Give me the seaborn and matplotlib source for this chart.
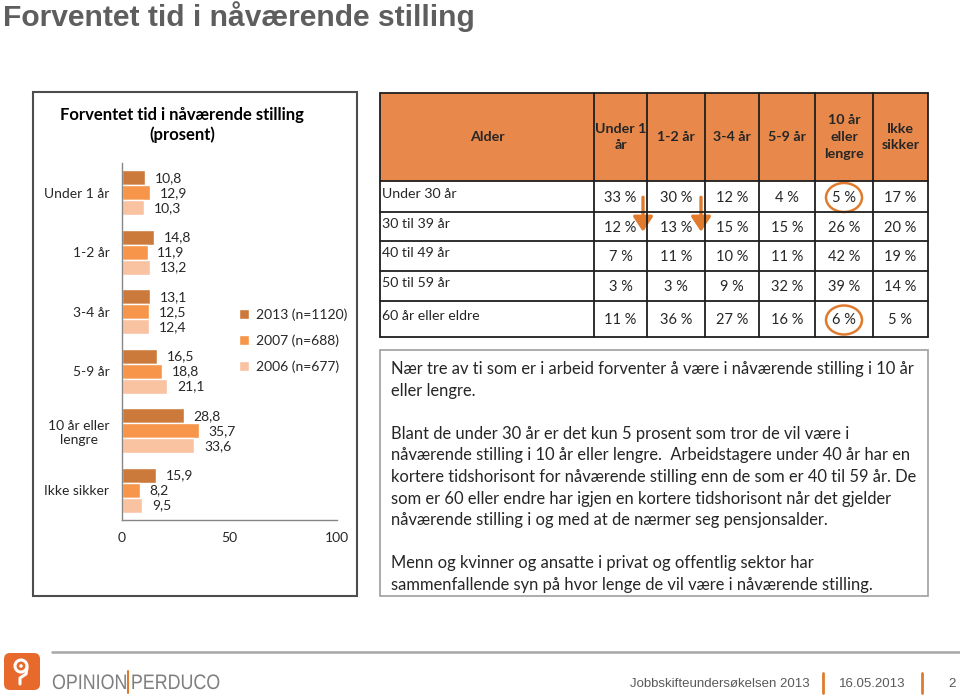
import numpy as np
import pandas as pd
import matplotlib
matplotlib.use("Agg")
import matplotlib.pyplot as plt
import seaborn as sns
from matplotlib.patches import Rectangle, FancyBboxPatch, Ellipse, FancyArrowPatch, Circle, PathPatch
from matplotlib.textpath import TextPath
from matplotlib.font_manager import FontProperties
from matplotlib.transforms import Affine2D

# ---------------- data ----------------
categories = ["Under 1 år", "1-2 år", "3-4 år", "5-9 år", "10 år eller\nlengre", "Ikke sikker"]
series_names = ["2013 (n=1120)", "2007 (n=688)", "2006 (n=677)"]
values_2013 = [10.8, 14.8, 13.1, 16.5, 28.8, 15.9]
values_2007 = [12.9, 11.9, 12.5, 18.8, 35.7, 8.2]
values_2006 = [10.3, 13.2, 12.4, 21.1, 33.6, 9.5]
x_ticks = [0, 50, 100]

table_columns = ["Under 1\når", "1-2 år", "3-4 år", "5-9 år", "10 år\neller\nlengre", "Ikke\nsikker"]
age_groups = ["Under 30 år", "30 til 39 år", "40 til 49 år", "50 til 59 år", "60 år eller eldre"]
pct_under30 = [33, 30, 12, 4, 5, 17]
pct_30_39 = [12, 13, 15, 15, 26, 20]
pct_40_49 = [7, 11, 10, 11, 42, 19]
pct_50_59 = [3, 3, 9, 32, 39, 14]
pct_60plus = [11, 36, 27, 16, 6, 5]

slide_title = "Forventet tid i nåværende stilling"
chart_title = "Forventet tid i nåværende stilling\n(prosent)"
text_lines = [
    "Nær tre av ti som er i arbeid forventer å være i nåværende stilling i 10 år",
    "eller lengre.",
    "",
    "Blant de under 30 år er det kun 5 prosent som tror de vil være i",
    "nåværende stilling i 10 år eller lengre.  Arbeidstagere under 40 år har en",
    "kortere tidshorisont for nåværende stilling enn de som er 40 til 59 år. De",
    "som er 60 eller endre har igjen en kortere tidshorisont når det gjelder",
    "nåværende stilling i og med at de nærmer seg pensjonsalder.",
    "",
    "Menn og kvinner og ansatte i privat og offentlig sektor har",
    "sammenfallende syn på hvor lenge de vil være i nåværende stilling.",
]
footer_left_a = "OPINION"
footer_left_b = "PERDUCO"
footer_survey = "Jobbskifteundersøkelsen 2013"
footer_date = "16.05.2013"
footer_page = "2"

# ---------------- style ----------------
sns.set_style("white")
BODY = ["Lato", "DejaVu Sans"]
ARIAL = ["Liberation Sans", "DejaVu Sans"]
plt.rcParams["font.family"] = BODY
ORANGE = "#E07B2E"
bar_colors = ["#CC7A3C", "#F7964A", "#F9C3A2"]
CHART_FS = 10

W, H = 960, 699
fig = plt.figure(figsize=(W / 100, H / 100), dpi=100)

# overlay axes in pixel coordinates (behind chart)
ov = fig.add_axes([0, 0, 1, 1])
ov.set_xlim(0, W)
ov.set_ylim(H, 0)
ov.axis("off")
ov.patch.set_alpha(0)


def condensed_text(x, baseline, s, size_px, sx, color):
    tp = TextPath((0, 0), s, size=size_px, prop=FontProperties(family="Liberation Sans"))
    tr = Affine2D().scale(sx, -1).translate(x, baseline)
    ov.add_patch(PathPatch(tr.transform_path(tp), fc=color, ec="none"))
    ext = tp.get_extents()
    return x + ext.x1 * sx


# slide title
ov.text(3, 17, slide_title, fontsize=21.6, fontweight="bold", color="#5E5E5E",
        family=ARIAL, va="center", ha="left")

# chart frame
ov.add_patch(Rectangle((33, 92), 324, 504, fill=False, ec="#4D4D4D", lw=1.5))
ov.text(182, 125, chart_title, fontsize=12, fontweight="bold", ha="center", va="center",
        linespacing=1.3, color="#000000")

# ---------------- seaborn bar chart ----------------
df = pd.DataFrame({
    "Kategori": categories * 3,
    "Prosent": values_2013 + values_2007 + values_2006,
    "År": [series_names[0]] * 6 + [series_names[1]] * 6 + [series_names[2]] * 6,
})
ax = fig.add_axes([122 / W, 1 - 520 / H, 215 / W, 357 / H])
sns.barplot(data=df, x="Prosent", y="Kategori", hue="År", order=categories,
            hue_order=series_names, palette=bar_colors, orient="h", width=0.76,
            saturation=1, errorbar=None, ax=ax)
ax.patch.set_alpha(0)
ax.set_xlim(0, 100)
ax.set_xticks(x_ticks)
ax.set_xticklabels([str(t) for t in x_ticks], fontsize=CHART_FS)
ax.set_xlabel("")
ax.set_ylabel("")
ax.set_yticks(range(len(categories)))
ax.set_yticklabels(categories, fontsize=CHART_FS)
for lab in ax.get_yticklabels():
    lab.set_multialignment("center")
ax.set_yticks(np.arange(-0.5, len(categories), 1), minor=True)
ax.tick_params(axis="y", which="major", length=0, pad=9)
ax.tick_params(axis="y", which="minor", length=4, color="#868686", direction="out")
ax.tick_params(axis="x", which="major", length=4, color="#868686", direction="out", pad=5)
for s in ["top", "right"]:
    ax.spines[s].set_visible(False)
for s in ["left", "bottom"]:
    ax.spines[s].set_color("#868686")
    ax.spines[s].set_linewidth(1.0)

for cont, vals in zip(ax.containers, [values_2013, values_2007, values_2006]):
    ax.bar_label(cont, labels=[f"{v:.1f}".replace(".", ",") for v in vals],
                 padding=7, fontsize=CHART_FS)

leg = ax.get_legend()
handles = leg.legend_handles
leg.remove()
fig.legend(handles, series_names, loc="upper left", bbox_to_anchor=(239 / W, 1 - 308 / H),
           frameon=False, fontsize=CHART_FS, handlelength=0.75, handleheight=0.75,
           handletextpad=0.45, labelspacing=0.98, borderaxespad=0, borderpad=0)

# ---------------- table ----------------
col_edges = [380, 594, 647, 705, 759, 815, 873, 928]
row_edges = [93, 181, 212, 241, 271, 301, 337]
table_rows = [pct_under30, pct_30_39, pct_40_49, pct_50_59, pct_60plus]

ov.add_patch(Rectangle((col_edges[0], row_edges[0]), col_edges[-1] - col_edges[0],
                       row_edges[1] - row_edges[0], fc="#E8894B", ec="none"))
for y in row_edges:
    ov.plot([col_edges[0], col_edges[-1]], [y, y], color="#1F1F1F", lw=1.3)
for x in col_edges:
    ov.plot([x, x], [row_edges[0], row_edges[-1]], color="#1F1F1F", lw=1.3)


def ccx(i):
    return (col_edges[i] + col_edges[i + 1]) / 2


def rcy(j):
    return (row_edges[j] + row_edges[j + 1]) / 2


hy = rcy(0)
ov.text(ccx(0), hy, "Alder", fontsize=10.3, fontweight="bold", ha="center", va="center")
for i, name in enumerate(table_columns):
    ov.text(ccx(i + 1), hy, name, fontsize=10.3, fontweight="bold", ha="center", va="center",
            linespacing=1.45, multialignment="center")
for j, (age, vals) in enumerate(zip(age_groups, table_rows)):
    y = rcy(j + 1)
    ov.text(col_edges[0] + 2, y - 3, age, fontsize=10.2, ha="left", va="center")
    for i, v in enumerate(vals):
        ov.text(ccx(i + 1), y + 1, f"{v} %", fontsize=10.5, ha="center", va="center")

# circles around highlighted cells
for j in [0, 4]:
    ov.add_patch(Ellipse((ccx(5), rcy(j + 1) + 1), 36, 29, fill=False, ec=ORANGE, lw=1.8))
# down arrows
for i in [1, 2]:
    ax_x = col_edges[i + 1] - 4
    ov.add_patch(FancyArrowPatch((ax_x, rcy(1) - 2), (ax_x, rcy(2) + 8),
                                 arrowstyle="-|>,head_length=6,head_width=4",
                                 color=ORANGE, lw=2.4, mutation_scale=1.5))

# ---------------- text box ----------------
ov.add_patch(Rectangle((380, 350), 548, 246, fill=False, ec="#A6A6A6", lw=1.3))
line_y = 369
for ln in text_lines:
    if ln:
        ov.text(391, line_y, ln, fontsize=11.9, ha="left", va="center", color="#262626")
    line_y += 21.6

# ---------------- footer ----------------
ov.plot([52, 960], [652, 652], color="#A6A6A6", lw=1.8)
ov.add_patch(FancyBboxPatch((4, 653), 36, 37, boxstyle="round,pad=0,rounding_size=6",
                            fc="#E8692C", ec="none"))
ov.add_patch(Circle((21, 666), 6, fill=False, ec="white", lw=2.2))
ov.add_patch(Circle((21, 666), 1.8, fc="white", ec="none"))
ov.plot([27, 26, 20, 20], [668, 674, 678, 684], color="white", lw=2.2, solid_capstyle="round")

x_end = condensed_text(52, 689, footer_left_a, 21, 0.85, "#7F7F7F")
ov.plot([x_end + 2.5, x_end + 2.5], [671, 693], color=ORANGE, lw=1.5)
condensed_text(x_end + 5, 689, footer_left_b, 21, 0.85, "#7F7F7F")

ov.text(630, 684, footer_survey, fontsize=9.5, color="#595959", family=ARIAL, ha="left", va="center")
ov.plot([823, 823], [673, 693], color=ORANGE, lw=2)
ov.text(839, 684, footer_date, fontsize=9.5, color="#595959", family=ARIAL, ha="left", va="center")
ov.plot([922, 922], [673, 693], color=ORANGE, lw=2)
ov.text(948, 684, footer_page, fontsize=9.5, color="#595959", family=ARIAL, ha="left", va="center")

fig.savefig("out.png", dpi=100)
